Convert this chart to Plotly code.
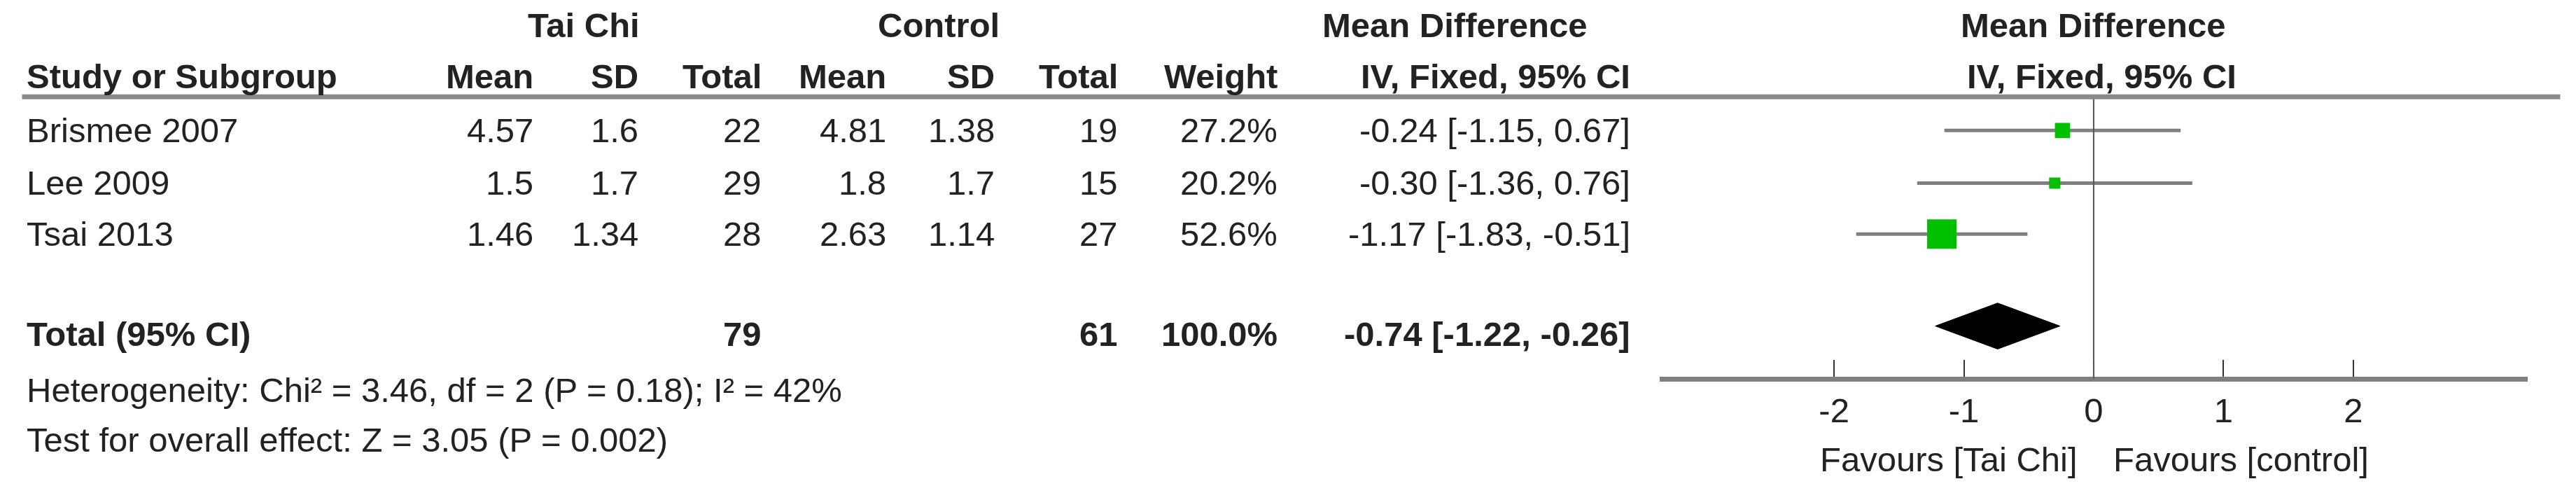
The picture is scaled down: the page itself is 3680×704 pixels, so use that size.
import plotly.graph_objects as go

studies = ["Brismee 2007", "Lee 2009", "Tsai 2013"]
tc_mean = ["4.57", "1.5", "1.46"]
tc_sd = ["1.6", "1.7", "1.34"]
tc_n = ["22", "29", "28"]
ct_mean = ["4.81", "1.8", "2.63"]
ct_sd = ["1.38", "1.7", "1.14"]
ct_n = ["19", "15", "27"]
weights = [27.2, 20.2, 52.6]
md = [-0.24, -0.30, -1.17]
lo = [-1.15, -1.36, -1.83]
hi = [0.67, 0.76, -0.51]
tot_md, tot_lo, tot_hi = -0.74, -1.22, -0.26
tot_tc, tot_ct = "79", "61"
ticks = [-2, -1, 0, 1, 2]

W, H = 3680, 704
DW, DH = 1568.0, 300.0
FS = 49
FONT = "Liberation Sans"
row_y = [76, 108, 139]
tot_y = 197

x0d, x1d, zd, ppu = 1007, 1535, 1271, 79.0
xr = [(x0d - zd) / ppu, (x1d - zd) / ppu]

fig = go.Figure()

for i in range(3):
    fig.add_trace(go.Scatter(x=[lo[i], hi[i]], y=[row_y[i]] * 2, mode="lines",
                             line=dict(color="#7f7f7f", width=5), showlegend=False, hoverinfo="skip"))
    fig.add_trace(go.Scatter(x=[md[i]], y=[row_y[i]], mode="markers",
                             marker=dict(symbol="square", size=42 * weights[i] / 52.6, color="#00c000",
                                         line=dict(width=0)), showlegend=False))
fig.add_trace(go.Scatter(x=[tot_lo, tot_md, tot_hi, tot_md, tot_lo], y=[tot_y - 2, tot_y - 16, tot_y - 2, tot_y + 12, tot_y - 2],
                         mode="lines", fill="toself", fillcolor="black", line=dict(color="black", width=1),
                         showlegend=False))
fig.add_shape(type="line", x0=0, x1=0, y0=55.5, y1=227, xref="x", yref="y", line=dict(color="#555", width=2))
fig.add_shape(type="line", x0=10 / DW, x1=1555 / DW, y0=1 - 55.5 / DH, y1=1 - 55.5 / DH, xref="paper", yref="paper",
              line=dict(color="#8a8a8a", width=7))

def ann(text, xd, yd, anchor="left", bold=False):
    if bold:
        text = "<b>" + text + "</b>"
    fig.add_annotation(text=text, x=xd / DW, y=1 - yd / DH, xref="paper", yref="paper", xanchor=anchor,
                       yanchor="middle", showarrow=False, font=dict(family=FONT, size=FS, color="#222"))

ann("Tai Chi", 352, 12, "center", True)
ann("Control", 568, 12, "center", True)
ann("Mean Difference", 882, 12, "center", True)
ann("Mean Difference", 1271, 12, "center", True)
ann("Study or Subgroup", 12, 43, "left", True)
for t, xd in [("Mean", 322), ("SD", 386), ("Total", 461), ("Mean", 537), ("SD", 603), ("Total", 678), ("Weight", 775)]:
    ann(t, xd, 43, "right", True)
ann("IV, Fixed, 95% CI", 907, 43, "center", True)
ann("IV, Fixed, 95% CI", 1276, 43, "center", True)

for i in range(3):
    y = row_y[i]
    ann(studies[i], 12, y)
    for t, xd in [(tc_mean[i], 322), (tc_sd[i], 386), (tc_n[i], 461), (ct_mean[i], 537), (ct_sd[i], 603),
                  (ct_n[i], 678), (f"{weights[i]:.1f}%", 775)]:
        ann(t, xd, y, "right")
    ann(f"{md[i]:.2f} [{lo[i]:.2f}, {hi[i]:.2f}]", 990, y, "right")

ann("Total (95% CI)", 12, tot_y + 3, "left", True)
ann(tot_tc, 461, tot_y + 3, "right", True)
ann(tot_ct, 678, tot_y + 3, "right", True)
ann(f"{sum(weights):.1f}%", 775, tot_y + 3, "right", True)
ann(f"{tot_md:.2f} [{tot_lo:.2f}, {tot_hi:.2f}]", 990, tot_y + 3, "right", True)
ann("Heterogeneity: Chi² = 3.46, df = 2 (P = 0.18); I² = 42%", 12, 234)
ann("Test for overall effect: Z = 3.05 (P = 0.002)", 12, 264)
ann("Favours [Tai Chi]", 1262, 276, "right")
ann("Favours [control]", 1282, 276, "left")

fig.update_layout(
    width=W, height=H, margin=dict(l=0, r=0, t=0, b=0), paper_bgcolor="white", plot_bgcolor="white",
    xaxis=dict(domain=[x0d / DW, x1d / DW], range=xr, anchor="free", position=1 - 227 / DH,
               showgrid=False, zeroline=False, showline=True, linecolor="#7f7f7f", linewidth=7,
               ticks="inside", ticklen=24, tickwidth=2, tickcolor="#333", tickvals=ticks,
               ticktext=[str(t) for t in ticks], tickfont=dict(family=FONT, size=FS, color="#222")),
    yaxis=dict(domain=[0, 1], range=[DH, 0], visible=False),
)
fig.write_html("out.html")
